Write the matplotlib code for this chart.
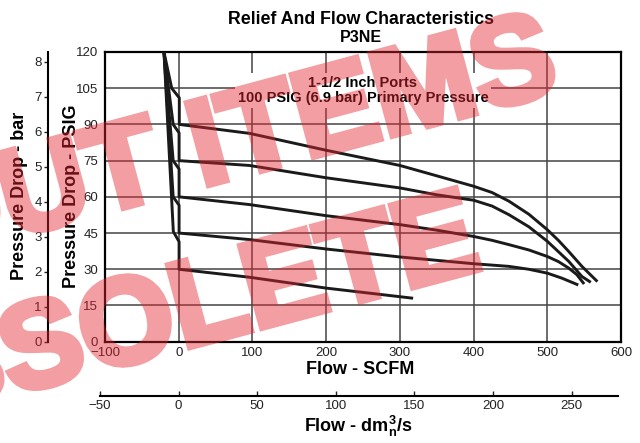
import matplotlib
matplotlib.use("Agg")
import matplotlib.pyplot as plt
import matplotlib.patheffects as pe

plt.rcParams["font.family"] = ["Liberation Sans", "DejaVu Sans"]
plt.rcParams["mathtext.fontset"] = "custom"
plt.rcParams["mathtext.rm"] = "Liberation Sans:bold"
plt.rcParams["mathtext.it"] = "Liberation Sans:bold"
plt.rcParams["mathtext.bf"] = "Liberation Sans:bold"

# --- data (flow in SCFM, pressure drop in PSIG) ---
flow_90 = [-20, -9.5, 0.8, 0.8, 96, 200, 300, 349, 400, 425, 448, 475, 500, 515, 529, 547, 568]
psig_90 = [120, 105, 101, 90, 86.3, 79.3, 73.0, 68.8, 64.4, 61.8, 58.2, 52.8, 46.4, 42.0, 37.4, 31.2, 24.9]

flow_75 = [-20, -7.5, 0.5, 0.5, 96, 200, 300, 349, 400, 425, 448, 475, 500, 529, 547, 559]
psig_75 = [120, 90, 86.5, 75, 73.0, 67.9, 63.7, 60.9, 58.6, 56.2, 52.6, 47.6, 41.6, 33.3, 27.0, 24.6]

flow_60 = [-20, -7.5, 0.5, 0.5, 96, 200, 300, 350, 400, 425, 448, 475, 500, 515, 529, 540, 550]
psig_60 = [120, 75, 71.5, 60, 56.8, 52.2, 48.5, 46.2, 43.6, 42.0, 40.2, 38.0, 35.3, 33.2, 30.5, 27.8, 23.9]

flow_45 = [-20, -7.5, 0.5, 0.5, 96, 200, 300, 350, 400, 448, 475, 500, 520, 542]
psig_45 = [120, 60, 56.5, 45, 42.3, 38.4, 35.1, 33.7, 32.3, 31.2, 30.0, 28.4, 26.3, 23.5]

flow_30 = [-20, -7.3, 0.5, 0.5, 96, 200, 318]
psig_30 = [120, 45.6, 41.4, 30, 26.7, 22.2, 18.0]

scfm_ticks = [-100, 0, 100, 200, 300, 400, 500, 600]
psig_ticks = [0, 15, 30, 45, 60, 75, 90, 105, 120]
bar_ticks = [0, 1, 2, 3, 4, 5, 6, 7, 8]
dm3_ticks = [-50, 0, 50, 100, 150, 200, 250]

PSI_PER_BAR = 14.5038
W, H = 640, 443


def px(x, y):
    # pixel position (from top-left) -> figure fraction
    return x / W, 1 - y / H


def fade(img, dpi):
    # watermark is drawn opaque, then made see-through in one go
    img = img.copy()
    img[..., 3] *= 0.45
    return img, 0, 0


fig = plt.figure(figsize=(6.4, 4.43), dpi=100)

ax = fig.add_axes([105 / W, 101.3 / H, 516 / W, 289.7 / H])
for fx, py in [(flow_90, psig_90), (flow_75, psig_75), (flow_60, psig_60),
               (flow_45, psig_45), (flow_30, psig_30)]:
    ax.plot(fx, py, color="#1a1a1a", lw=2.1, solid_joinstyle="round",
            solid_capstyle="butt", zorder=3)
ax.set_xlim(-100, 600)
ax.set_ylim(0, 120)
ax.set_xticks(scfm_ticks)
ax.set_yticks(psig_ticks)
ax.grid(True, color="#444444", lw=1.1)
ax.set_axisbelow(True)
ax.tick_params(length=0, labelsize=9.5, colors="#222222")
ax.tick_params(axis="x", pad=3.5)
ax.tick_params(axis="y", pad=5)
for s in ax.spines.values():
    s.set_linewidth(1.6)

ax.text(0.5, 0.866, "1-1/2 Inch Ports\n100 PSIG (6.9 bar) Primary Pressure",
        transform=ax.transAxes, ha="center", va="center", fontsize=10.5,
        fontweight="bold", linespacing=1.1, zorder=4,
        bbox=dict(facecolor="white", edgecolor="none", pad=2))

# bar axis on the far left
axb = fig.add_axes([105 / W, 101.3 / H, 516 / W, 289.7 / H], facecolor="none")
axb.set_ylim(0, 120 / PSI_PER_BAR)
axb.set_yticks(bar_ticks)
axb.set_xticks([])
for k in ["top", "right", "bottom"]:
    axb.spines[k].set_visible(False)
axb.spines["left"].set_position(("outward", 41))
axb.spines["left"].set_linewidth(1.5)
axb.tick_params(axis="y", length=3, width=1, pad=1.5, labelsize=9.5, colors="#222222")

# dm3/s axis below
axd = fig.add_axes([100 / W, (H - 395.7) / H, 518 / W, 0.0001], facecolor="none")
axd.set_xlim(-50, 279.5)
axd.set_xticks(dm3_ticks)
axd.set_yticks([])
for k in ["top", "right", "left"]:
    axd.spines[k].set_visible(False)
axd.spines["bottom"].set_linewidth(1.5)
axd.tick_params(axis="x", direction="in", length=3.5, width=1, pad=3,
                labelsize=9.5, colors="#222222")

# titles and labels
fig.text(*px(361, 19), "Relief And Flow Characteristics", ha="center", va="center",
         fontsize=12.8, fontweight="bold")
fig.text(*px(361, 38), "P3NE", ha="center", va="center", fontsize=11.5, fontweight="bold")
fig.text(*px(360, 369), "Flow - SCFM", ha="center", va="center", fontsize=13, fontweight="bold")
fig.text(*px(358, 426), r"Flow - dm$^{3}_{n}$/s", ha="center", va="center",
         fontsize=13, fontweight="bold")
fig.text(*px(72, 196), "Pressure Drop - PSIG", ha="center", va="center", rotation=90,
         fontsize=13, fontweight="bold")
fig.text(*px(20, 196), "Pressure Drop - bar", ha="center", va="center", rotation=90,
         fontsize=13, fontweight="bold")

# watermark
wm_color = (226 / 255, 39 / 255, 48 / 255)
for word, (x0, y0) in [("OUT ITEMS", (562, 90)), ("OBSOLETE", (484, 268))]:
    t = fig.text(*px(x0, y0), word, ha="right", va="baseline", rotation=15,
                 rotation_mode="anchor", fontsize=88, fontweight="bold",
                 color=wm_color, zorder=10,
                 path_effects=[pe.withStroke(linewidth=5, foreground=wm_color,
                                             joinstyle="miter")])
    t.set_agg_filter(fade)

fig.savefig("out.png", dpi=100)
